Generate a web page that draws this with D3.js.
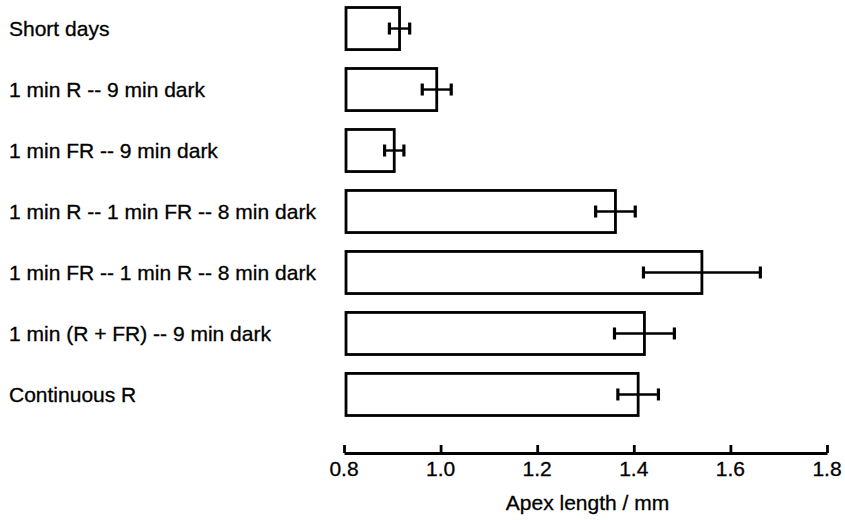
<!DOCTYPE html>
<html>
<head>
<meta charset="utf-8">
<script src="https://cdn.jsdelivr.net/npm/d3@7"></script>
<style>
  body { margin: 0; background: #fff; }
  text { font-family: "Liberation Sans", Arial, sans-serif; fill: #000; stroke: #000; stroke-width: 0.3px; }
</style>
</head>
<body>
<div id="chart"></div>
<script>
// data
var treatments = [
  "Short days",
  "1 min R -- 9 min dark",
  "1 min FR -- 9 min dark",
  "1 min R -- 1 min FR -- 8 min dark",
  "1 min FR -- 1 min R -- 8 min dark",
  "1 min (R + FR) -- 9 min dark",
  "Continuous R"
];
var apexLength = [0.915, 0.992, 0.904, 1.362, 1.541, 1.422, 1.409];
var apexError  = [0.021, 0.030, 0.020, 0.041, 0.121, 0.062, 0.042];
var tickValues = [0.8, 1.0, 1.2, 1.4, 1.6, 1.8];
var axisTitle = "Apex length / mm";

var width = 845, height = 520;

var svg = d3.select("#chart")
  .append("svg")
    .attr("width", width)
    .attr("height", height);

// scales
var x = d3.scaleLinear()
  .domain([0.8, 1.8])
  .range([344, 827]);

var y = d3.scaleBand()
  .domain(treatments)
  .range([7.5, 415.5])
  .paddingInner(0.31)
  .paddingOuter(0);

// labels on the left
svg.selectAll(".label")
  .data(treatments)
  .enter()
  .append("text")
    .attr("class", "label")
    .attr("x", 9)
    .attr("y", function(d){ return y(d) + y.bandwidth() / 2; })
    .attr("dy", "0.36em")
    .style("font-size", "21px")
    .text(function(d){ return d; });

// bars
svg.selectAll(".bar")
  .data(apexLength)
  .enter()
  .append("rect")
    .attr("class", "bar")
    .attr("x", x(0.8) + 2)
    .attr("y", function(d, i){ return y(treatments[i]); })
    .attr("width", function(d){ return x(d) - x(0.8) - 2; })
    .attr("height", y.bandwidth())
    .attr("fill", "#fff")
    .attr("stroke", "#000")
    .attr("stroke-width", 2.8);

// error bars
var err = svg.selectAll(".err")
  .data(apexLength)
  .enter()
  .append("g")
    .attr("class", "err")
    .attr("transform", function(d, i){
      return "translate(0," + (y(treatments[i]) + y.bandwidth() / 2) + ")"; });

err.append("line")
  .attr("x1", function(d, i){ return x(d - apexError[i]); })
  .attr("x2", function(d, i){ return x(d + apexError[i]); })
  .attr("stroke", "#000")
  .attr("stroke-width", 2.4);

err.selectAll(".cap")
  .data(function(d, i){ return [d - apexError[i], d + apexError[i]]; })
  .enter()
  .append("line")
    .attr("class", "cap")
    .attr("x1", function(d){ return x(d); })
    .attr("x2", function(d){ return x(d); })
    .attr("y1", -6)
    .attr("y2", 6)
    .attr("stroke", "#000")
    .attr("stroke-width", 3.2);

// x axis
var axis = svg.append("g")
  .attr("transform", "translate(0,453)")
  .call(d3.axisTop(x)
    .tickValues(tickValues)
    .tickSize(8)
    .tickSizeOuter(0)
    .tickFormat(""));

axis.select(".domain").attr("stroke-width", 2.8);
axis.selectAll(".tick line").attr("stroke-width", 2.8);

svg.selectAll(".tlabel")
  .data(tickValues)
  .enter()
  .append("text")
    .attr("class", "tlabel")
    .attr("x", function(d){ return x(d); })
    .attr("y", 476)
    .attr("text-anchor", "middle")
    .style("font-size", "21px")
    .text(function(d){ return d3.format(".1f")(d); });

svg.append("text")
  .attr("x", x(1.3) + 2)
  .attr("y", 510)
  .attr("text-anchor", "middle")
  .style("font-size", "21px")
  .text(axisTitle);
</script>
</body>
</html>
